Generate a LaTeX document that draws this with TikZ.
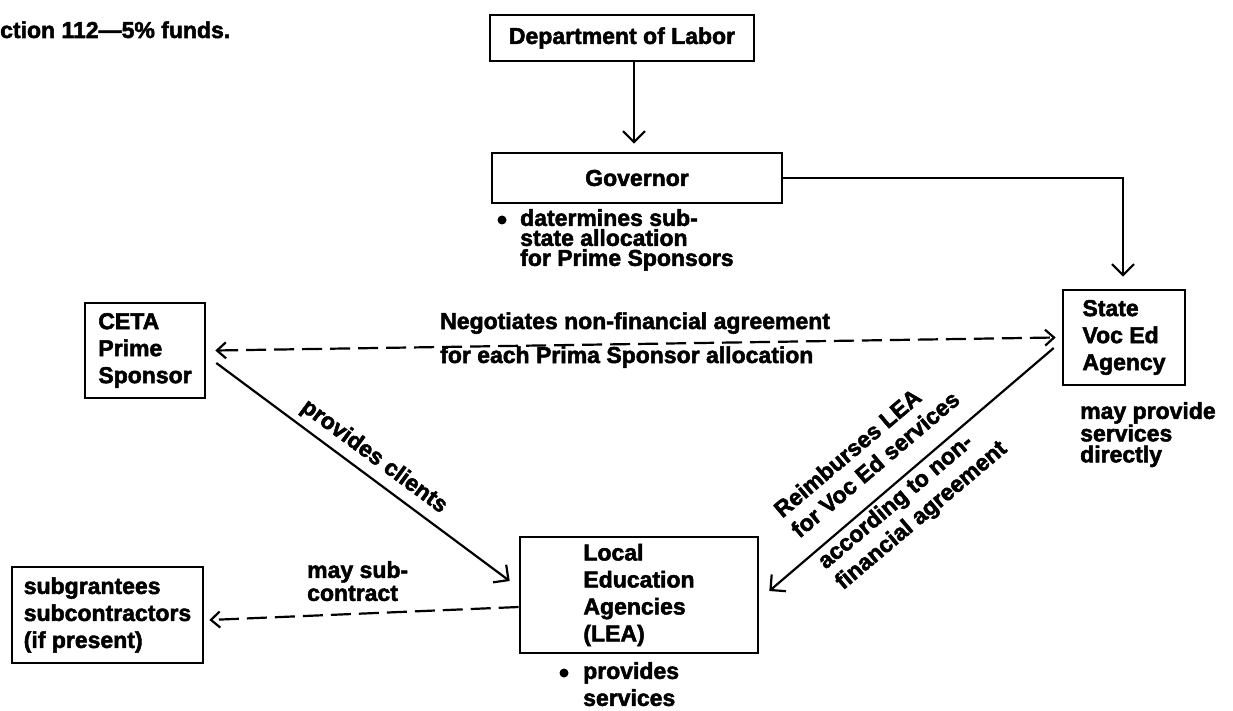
\documentclass[tikz,border=0pt]{standalone}
\usepackage{fontspec}
\setmainfont{Liberation Sans}[BoldFeatures={FakeBold=2.2}]
\usetikzlibrary{arrows.meta,calc}
\begin{document}
\begin{tikzpicture}[x=1pt,y=-1pt,
  txt/.style={font=\bfseries\fontsize{23}{27}\selectfont, inner sep=0pt, align=left},
  box/.style={draw, line width=2.6pt, txt, inner sep=0pt},
  conn/.style={line width=2.2pt},
  arr/.style={conn, -{Straight Barb[length=11pt,width=22pt]}},
  darr/.style={conn, dash pattern=on 20pt off 8pt, {Straight Barb[length=9pt,width=16pt]}-{Straight Barb[length=9pt,width=16pt]}},
  darrone/.style={conn, dash pattern=on 20pt off 8pt, -{Straight Barb[length=9pt,width=16pt]}},
  dot/.style={circle, fill, inner sep=0pt, minimum size=9pt},
]
\useasboundingbox (0,0) rectangle (1233,711);

% title
\node[txt, anchor=base west] (title) at (0,38) {ction 112—5\% funds.};

% boxes
\node[box, minimum width=264pt, minimum height=46pt] (dept) at (622,38) {Department of Labor};
\node[box, minimum width=290pt, minimum height=50pt] (gov) at (637,178) {Governor};
\node[box, minimum width=122pt, minimum height=95pt] (state) at (1124,337.5) {State\\Voc Ed\\Agency};
\node[box, minimum width=120pt, minimum height=95pt] (ceta) at (145,350.5) {CETA\\Prime\\Sponsor};
\node[box, minimum width=238pt, minimum height=116pt] (lea) at (639,595) {Local\\Education\\Agencies\\(LEA)};
\node[box, minimum width=191pt, minimum height=96pt] (sub) at (107.5,615) {subgrantees\\subcontractors\\(if present)};

% notes
\node[dot] (gdot) at (502,220) {};
\node[txt, font=\bfseries\fontsize{23}{20}\selectfont, anchor=north west] (govnote) at (520,209) {datermines sub-\\state allocation\\for Prime Sponsors};
\node[txt, font=\bfseries\fontsize{23}{21}\selectfont, anchor=north west] (statenote) at (1080,402) {may provide\\services\\directly};
\node[dot] (ldot) at (564,673) {};
\node[txt, anchor=north west] (leanote) at (583,662) {provides\\services};
\node[txt, font=\bfseries\fontsize{23}{23}\selectfont, anchor=north west] (subnote) at (307,561) {may sub-\\contract};

% connectors
\draw[arr] ($(dept.south)+(12,0)$) -- ($(gov.north)+(-3,-8)$);
\draw[arr] (gov.east) -| ($(state.north)+(-1,-12)$);
\draw[darr] ($(ceta.east)+(9,0)$) -- ($(state.west)+(-6,0)$);
\draw[arr] ($(ceta.east)+(10,12.5)$) -- ($(lea.west)+(-9,-14)$);
\draw[arr] ($(state.west)+(-8,10.5)$) -- ($(lea.east)+(10,-4)$);
\draw[darrone] ($(lea.west)+(0,12)$) -- ($(sub.east)+(5,5)$);

% connector labels
\node[txt, anchor=base west] (neg1) at (440,329) {Negotiates non-financial agreement};
\node[txt, anchor=base west] (neg2) at (440,363) {for each Prima Sponsor allocation};
\node[txt, rotate=-36.4] (prov) at (374,457) {provides clients};
\node[txt, font=\bfseries\fontsize{23}{26.5}\selectfont, rotate=40.25, anchor=base west] (reup) at (799.4,538.9) {Reimburses LEA\\for Voc Ed services};
\node[txt, font=\bfseries\fontsize{23}{27}\selectfont, rotate=40.25, anchor=base west] (redown) at (843,590.5) {according to non-\\financial agreement};
\end{tikzpicture}
\end{document}
